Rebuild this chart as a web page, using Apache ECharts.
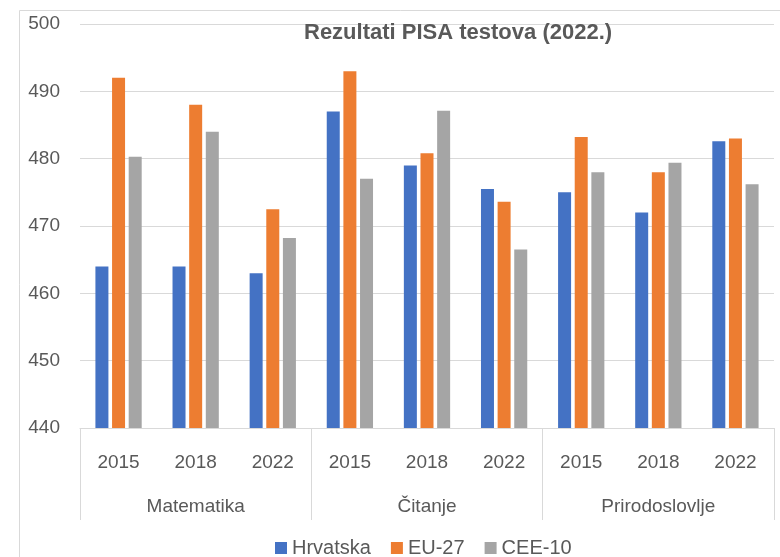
<!DOCTYPE html>
<html>
<head>
<meta charset="utf-8">
<title>Rezultati PISA testova (2022.)</title>
<script src="https://cdn.jsdelivr.net/npm/echarts@6/dist/echarts.min.js"></script>
<style>
  html, body { margin: 0; padding: 0; background: #fff; }
  #chart-pisa { width: 780px; height: 557px; }
</style>
</head>
<body>
<div id="chart-pisa"></div>
<script>
// ---------- 数据 ----------
var years = ['2015', '2018', '2022', '2015', '2018', '2022', '2015', '2018', '2022'];
var subjects = ['Matematika', 'Čitanje', 'Prirodoslovlje'];
var seriesNames = ['Hrvatska', 'EU-27', 'CEE-10'];
var hrvatska = [464, 464, 463, 487, 479, 475.5, 475, 472, 482.6];
var eu27 = [492, 488, 472.5, 493, 480.8, 473.6, 483.2, 478, 483];
var cee10 = [480.3, 484, 468.2, 477, 487.1, 466.5, 478, 479.4, 476.2];

(function () {
  'use strict';

  var textColor = '#595959';
  var lineColor = '#d9d9d9';
  var font = '"Liberation Sans", Arial, sans-serif';
  var colors = ['#4472C4', '#ED7D31', '#A5A5A5'];

  var chart = echarts.init(document.getElementById('chart-pisa'));

  function bar(name, data, color) {
    return {
      name: name,
      type: 'bar',
      xAxisIndex: 0,
      barWidth: 13,
      barGap: '28%',
      itemStyle: { color: color },
      data: data
    };
  }

  var option = {
    animation: false,
    textStyle: { fontFamily: font },
    title: {
      text: 'Rezultati PISA testova (2022.)',
      left: 299,
      top: 17,
      textStyle: { color: textColor, fontSize: 22, fontWeight: 'bold', fontFamily: font }
    },
    legend: {
      data: seriesNames,
      left: 270,
      top: 533,
      itemWidth: 12,
      itemHeight: 12,
      itemGap: 20,
      icon: 'rect',
      textStyle: { color: textColor, fontSize: 20 }
    },
    grid: { left: 80, right: 6, top: 24, bottom: 129 },
    xAxis: [
      {
        type: 'category',
        data: years,
        position: 'bottom',
        axisLine: { lineStyle: { color: lineColor } },
        axisTick: { show: false },
        axisLabel: { color: textColor, fontSize: 19, margin: 25 }
      },
      {
        type: 'category',
        data: subjects,
        position: 'bottom',
        axisLine: { show: false },
        axisTick: { show: true, length: 92, interval: 0, lineStyle: { color: lineColor } },
        axisLabel: { color: textColor, fontSize: 19, margin: 69 }
      }
    ],
    yAxis: {
      type: 'value',
      min: 440,
      max: 500,
      interval: 10,
      axisLine: { show: false },
      axisTick: { show: false },
      splitLine: { lineStyle: { color: lineColor } },
      axisLabel: { color: textColor, fontSize: 19, margin: 20 }
    },
    graphic: [
      {
        type: 'rect',
        silent: true,
        z: -10,
        shape: { x: 19.5, y: 10.5, width: 800, height: 600 },
        style: { fill: 'none', stroke: lineColor, lineWidth: 1 }
      }
    ],
    series: [
      bar(seriesNames[0], hrvatska, colors[0]),
      bar(seriesNames[1], eu27, colors[1]),
      bar(seriesNames[2], cee10, colors[2])
    ]
  };

  chart.setOption(option);
})();
</script>
</body>
</html>
